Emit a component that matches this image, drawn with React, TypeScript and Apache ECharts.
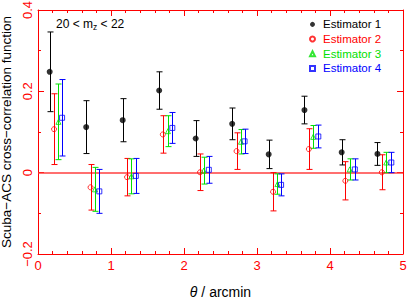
import React, { useEffect, useRef } from "react";
import * as echarts from "echarts";

const seriesNames = ["Estimator 1", "Estimator 2", "Estimator 3", "Estimator 4"];
const seriesColors = ["#000000", "#ff0000", "#00e000", "#0000ff"];

// theta positions (arcmin) for each estimator
const x1 = [0.16, 0.66, 1.16, 1.66, 2.16, 2.66, 3.16, 3.65, 4.16, 4.65];
const x2 = [0.22, 0.72, 1.22, 1.71, 2.22, 2.72, 3.22, 3.71, 4.21, 4.71];
const x3 = [0.28, 0.78, 1.28, 1.78, 2.27, 2.78, 3.28, 3.77, 4.27, 4.77];
const x4 = [0.33, 0.84, 1.34, 1.84, 2.34, 2.83, 3.33, 3.84, 4.34, 4.84];

// cross-correlation values
const v1 = [0.248, 0.112, 0.129, 0.202, 0.084, 0.120, 0.045, 0.154, 0.050, 0.046];
const v2 = [0.107, -0.036, -0.011, 0.094, 0.001, 0.053, -0.047, 0.058, -0.020, 0.001];
const v3 = [0.125, -0.041, -0.009, 0.102, 0.005, 0.076, -0.028, 0.088, 0.008, 0.025];
const v4 = [0.135, -0.046, -0.008, 0.110, 0.007, 0.077, -0.030, 0.089, 0.008, 0.025];

// 1-sigma errors
const e1 = [0.098, 0.065, 0.053, 0.046, 0.044, 0.039, 0.035, 0.034, 0.031, 0.028];
const e2 = [0.087, 0.056, 0.046, 0.046, 0.045, 0.045, 0.047, 0.050, 0.047, 0.043];
const e3 = [0.093, 0.054, 0.043, 0.038, 0.033, 0.030, 0.025, 0.028, 0.026, 0.025];
const e4 = [0.094, 0.054, 0.043, 0.038, 0.033, 0.030, 0.027, 0.028, 0.026, 0.025];

const xTicks = [0, 1, 2, 3, 4, 5];
const yTicks = [-0.2, 0, 0.2, 0.4];

const FONT = "Liberation Sans";
const AXIS_RED = "#ff0000";

const allX = [x1, x2, x3, x4];
const allV = [v1, v2, v3, v4];
const allE = [e1, e2, e3, e4];
const symbols = ["circle", "circle", "triangle", "rect"];
const symbolSizes = [6, 5, 5, 5];
const filled = [true, false, false, false];

export default function App() {
  const ref = useRef<HTMLDivElement>(null);
  useEffect(() => {
    if (!ref.current) return;
    const chart = echarts.init(ref.current, undefined, { renderer: "svg" });

    const fmtY = (v: number) => {
      const r = Math.round(v * 10) / 10;
      if (r === 0) return "0";
      return (r < 0 ? "\u2212" : "") + Math.abs(r).toFixed(1);
    };

    const baseAxis = {
      axisLine: { show: true, onZero: false, lineStyle: { color: AXIS_RED, width: 1 } },
      axisTick: { show: true, inside: true, length: 6, lineStyle: { color: AXIS_RED, width: 1 } },
      minorTick: { show: true, length: 3, lineStyle: { color: AXIS_RED, width: 1 } },
      splitLine: { show: false },
      minorSplitLine: { show: false },
    };

    const series: any[] = [];
    for (let s = 0; s < 4; s++) {
      const xs = allX[s];
      const vs = allV[s];
      const es = allE[s];
      const color = seriesColors[s];
      series.push({
        type: "custom",
        name: seriesNames[s] + " err",
        xAxisIndex: 0,
        yAxisIndex: 0,
        z: 3,
        silent: true,
        encode: { x: 0, y: [1, 2] },
        data: xs.map((x, i) => [x, vs[i] - es[i], vs[i] + es[i]]),
        renderItem: (params: any, api: any) => {
          const x = api.value(0);
          const top = api.coord([x, api.value(2)]);
          const bot = api.coord([x, api.value(1)]);
          const px = Math.round(top[0]) + 0.5;
          const cap = 3;
          const st = { stroke: color, lineWidth: 1 };
          return {
            type: "group",
            children: [
              { type: "line", shape: { x1: px, y1: top[1], x2: px, y2: bot[1] }, style: st },
              { type: "line", shape: { x1: px - cap, y1: top[1], x2: px + cap, y2: top[1] }, style: st },
              { type: "line", shape: { x1: px - cap, y1: bot[1], x2: px + cap, y2: bot[1] }, style: st },
            ],
          };
        },
      });
    }
    for (let s = 0; s < 4; s++) {
      const xs = allX[s];
      const vs = allV[s];
      const color = seriesColors[s];
      const ser: any = {
        type: "scatter",
        name: seriesNames[s],
        xAxisIndex: 0,
        yAxisIndex: 0,
        z: 4,
        symbol: symbols[s],
        symbolSize: symbolSizes[s],
        itemStyle: filled[s]
          ? { color: color }
          : { color: "rgba(255,255,255,0)", borderColor: color, borderWidth: 1 },
        data: xs.map((x, i) => [x, vs[i]]),
      };
      if (s === 0) {
        ser.markLine = {
          silent: true,
          symbol: ["none", "none"],
          label: { show: false },
          z: 1,
          lineStyle: { color: "rgba(255,50,50,0.7)", type: "solid", width: 2 },
          data: [{ yAxis: 0 }],
        };
      }
      series.push(ser);
    }

    chart.setOption({
      animation: false,
      backgroundColor: "#ffffff",
      textStyle: { fontFamily: FONT },
      grid: { left: 38, right: 4, top: 10, bottom: 46, containLabel: false, outerBoundsMode: "none" },
      legend: {
        orient: "vertical",
        left: 309,
        top: 17,
        padding: 0,
        itemGap: 0,
        itemWidth: 5,
        itemHeight: 5,
        selectedMode: false,
        data: seriesNames.map((n, i) => ({
          name: n,
          textStyle: {
            color: seriesColors[i],
            fontSize: 11.5,
            fontFamily: FONT,
            lineHeight: 14.7,
            padding: [0, 0, 0, 3],
          },
        })),
        textStyle: { fontSize: 11.5, fontFamily: FONT, lineHeight: 14.7, padding: [0, 0, 0, 3] },
      },
      graphic: [
        {
          type: "text",
          left: 56,
          top: 17,
          style: {
            text: "20 < m{sub|z} < 22",
            fill: "#000",
            font: `12px "${FONT}"`,
            rich: {
              sub: { fontSize: 8.5, fontFamily: FONT, fill: "#000", verticalAlign: "bottom", lineHeight: 8 },
            },
            lineHeight: 14,
          },
        },
      ],
      xAxis: [
        {
          ...baseAxis,
          type: "value",
          position: "bottom",
          min: xTicks[0],
          max: xTicks[xTicks.length - 1],
          interval: 1,
          minorTick: { ...baseAxis.minorTick, splitNumber: 5 },
          axisLabel: { color: AXIS_RED, fontSize: 13, margin: 5, fontFamily: FONT },
          name: "{i|\u03b8} / arcmin",
          nameLocation: "middle",
          nameGap: 31,
          nameTextStyle: {
            color: "#000",
            fontSize: 14,
            fontFamily: FONT,
            rich: { i: { fontStyle: "italic", fontSize: 14, fontFamily: FONT, color: "#000" } },
          },
        },
        {
          ...baseAxis,
          type: "value",
          position: "top",
          min: xTicks[0],
          max: xTicks[xTicks.length - 1],
          interval: 1,
          minorTick: { ...baseAxis.minorTick, splitNumber: 5 },
          axisLabel: { show: false },
        },
      ],
      yAxis: [
        {
          ...baseAxis,
          type: "value",
          position: "left",
          min: yTicks[0],
          max: yTicks[yTicks.length - 1],
          interval: 0.2,
          minorTick: { ...baseAxis.minorTick, splitNumber: 2 },
          axisLabel: { color: AXIS_RED, fontSize: 13, margin: 4, rotate: 90, formatter: fmtY, fontFamily: FONT },
          name: "Scuba\u2212ACS cross\u2212correlation function",
          nameLocation: "middle",
          nameGap: 20,
          nameTextStyle: { color: "#000", fontSize: 13.5, fontFamily: FONT },
        },
        {
          ...baseAxis,
          type: "value",
          position: "right",
          min: yTicks[0],
          max: yTicks[yTicks.length - 1],
          interval: 0.2,
          minorTick: { ...baseAxis.minorTick, splitNumber: 2 },
          axisLabel: { show: false },
        },
      ],
      series,
    });
    return () => chart.dispose();
  }, []);
  return (
    <div
      ref={ref}
      style={{ position: "fixed", left: 0, top: 0, width: 407, height: 300, background: "#fff" }}
    />
  );
}
